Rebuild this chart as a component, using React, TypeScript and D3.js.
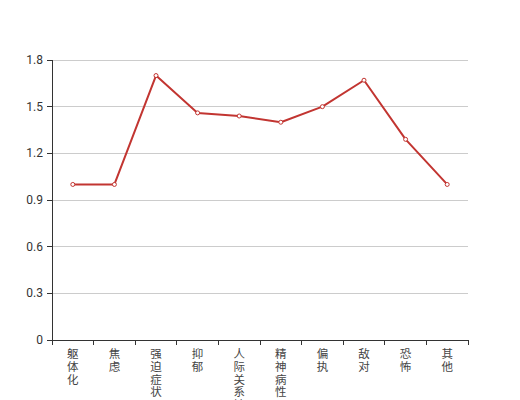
import React from "react";
import * as d3 from "d3";

const categories = ["躯体化", "焦虑", "强迫症状", "抑郁", "人际关系敏感", "精神病性", "偏执", "敌对", "恐怖", "其他"];
const values = [1.0, 1.0, 1.7, 1.46, 1.44, 1.4, 1.5, 1.67, 1.29, 1.0];
const yTicks = [0, 0.3, 0.6, 0.9, 1.2, 1.5, 1.8];

const W = 520;
const H = 400;
const left = 52;
const right = 468;
const top = 60;
const bottom = 340;
const color = "#c23531";
const font = "'Noto Sans CJK SC', 'DejaVu Sans', sans-serif";

export default function App() {
  const x = d3.scaleBand<string>().domain(categories).range([left, right]);
  const y = d3.scaleLinear().domain([0, 1.8]).range([bottom, top]);
  const line = d3
    .line<number>()
    .x((_, i) => (x(categories[i]) as number) + x.bandwidth() / 2)
    .y((d) => y(d));
  const boundaries = categories.map((c) => x(c) as number).concat([right]);

  return (
    <svg
      width={W}
      height={H}
      style={{ position: "absolute", left: 0, top: 0, background: "#fff" }}
      fontFamily={font}
    >
      {yTicks.map((t) => (
        <g key={t}>
          {t !== 0 && (
            <line x1={left} x2={right} y1={y(t)} y2={y(t)} stroke="#ccc" strokeWidth={1} shapeRendering="crispEdges" />
          )}
          <line x1={left - 5} x2={left} y1={y(t)} y2={y(t)} stroke="#333" shapeRendering="crispEdges" />
          <text x={left - 9} y={y(t)} textAnchor="end" dominantBaseline="central" fontSize={12} fill="#333" fontFamily="Roboto, 'DejaVu Sans', sans-serif">
            {String(t)}
          </text>
        </g>
      ))}
      <line x1={left} x2={left} y1={top} y2={bottom} stroke="#333" shapeRendering="crispEdges" />
      <line x1={left} x2={right} y1={bottom} y2={bottom} stroke="#333" shapeRendering="crispEdges" />
      {boundaries.map((b, i) => (
        <line key={i} x1={b} x2={b} y1={bottom} y2={bottom + 5} stroke="#333" shapeRendering="crispEdges" />
      ))}
      {categories.map((c) => {
        const cx = (x(c) as number) + x.bandwidth() / 2;
        return (
          <text key={c} x={cx} y={353} textAnchor="middle" fontSize={11.5} fill="#444">
            {Array.from(c).map((ch, i) => (
              <tspan key={i} x={cx} y={353 + i * 12.8} dominantBaseline="central">
                {ch}
              </tspan>
            ))}
          </text>
        );
      })}
      <path d={line(values) || ""} fill="none" stroke={color} strokeWidth={2} strokeLinejoin="round" />
      {values.map((v, i) => (
        <circle
          key={i}
          cx={(x(categories[i]) as number) + x.bandwidth() / 2}
          cy={y(v)}
          r={2}
          fill="#fff"
          stroke={color}
          strokeWidth={1}
        />
      ))}
    </svg>
  );
}
